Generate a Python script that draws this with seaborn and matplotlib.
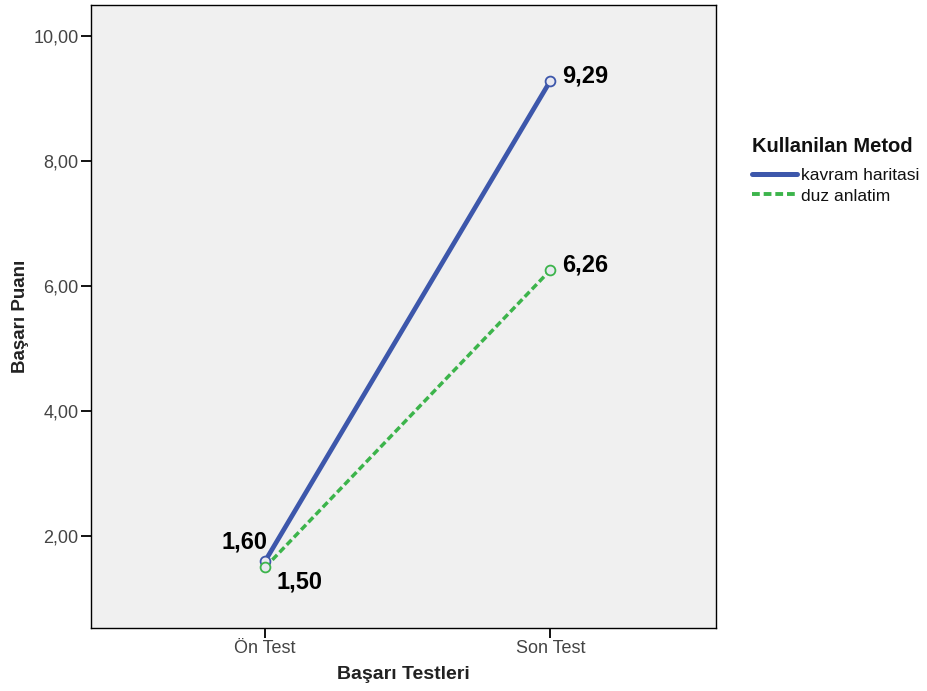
import matplotlib
matplotlib.use("Agg")
import matplotlib.pyplot as plt
import seaborn as sns
import pandas as pd
from matplotlib.lines import Line2D

tests = ["Ön Test", "Son Test"]
kavram = [1.60, 9.29]
duz = [1.50, 6.26]
methods = ["kavram haritasi", "duz anlatim"]
yticks = [2, 4, 6, 8, 10]

df = pd.DataFrame({
    "test": tests * 2,
    "x": [0, 1, 0, 1],
    "score": kavram + duz,
    "method": [methods[0]] * 2 + [methods[1]] * 2,
})

sns.set_theme(style="white")
plt.rcParams['font.family'] = ['Liberation Sans', 'DejaVu Sans']

fig = plt.figure(figsize=(9.27, 6.91), dpi=100)
ax = fig.add_axes([0.0982, 0.0912, 0.6742, 0.9016])
ax.set_facecolor("#F0F0F0")
palette = {methods[0]: "#3D57AB", methods[1]: "#3CB44B"}
sns.lineplot(data=df, x="x", y="score", hue="method", style="method",
             palette=palette, dashes={methods[0]: "", methods[1]: (2, 1)},
             ax=ax, legend=False, linewidth=3, sort=False)
lw = {methods[0]: 3.4, methods[1]: 2.5}
for line, m in zip(ax.lines, methods):
    line.set_linewidth(lw[m])
for m, vals in zip(methods, [kavram, duz]):
    ax.scatter([0, 1], vals, s=50, facecolors="#E8E8F0", edgecolors=palette[m],
               linewidths=1.3, zorder=5)

fs = 17
ax.text(0.0 + 0.01, kavram[0] + 0.12, "1,60", ha="right", va="bottom", fontsize=fs, fontweight="bold", color="black")
ax.text(0.04, duz[0] - 0.05, "1,50", ha="left", va="top", fontsize=fs, fontweight="bold", color="black")
ax.text(1.04, kavram[1] + 0.08, "9,29", ha="left", va="center", fontsize=fs, fontweight="bold", color="black")
ax.text(1.04, duz[1] + 0.08, "6,26", ha="left", va="center", fontsize=fs, fontweight="bold", color="black")

ax.set_xlim(-0.61, 1.58)
ax.set_ylim(0.53, 10.5)
ax.set_xticks([0, 1])
ax.set_xticklabels(tests)
ax.set_yticks(yticks)
ax.set_yticklabels([f"{v},00" for v in yticks])
ax.tick_params(axis="both", which="major", direction="out", length=7, width=1.3,
               color="black", labelsize=13, labelcolor="#444444", left=True, bottom=True,
               pad=2)
for s in ax.spines.values():
    s.set_color("black")
    s.set_linewidth(1.0)
ax.set_xlabel("Başarı Testleri", fontsize=14, fontweight="bold", color="#222222", labelpad=6)
ax.set_ylabel("Başarı Puanı", fontsize=13.5, fontweight="bold", color="#222222", labelpad=3)

handles = [Line2D([], [], color=palette[methods[0]], lw=3.6),
           Line2D([], [], color=palette[methods[1]], lw=2.8, ls=(0, (2, 1)))]
leg = fig.legend(handles, methods, loc="upper left", bbox_to_anchor=(0.798, 0.82),
                 frameon=False, title="Kullanilan Metod", fontsize=12.5,
                 title_fontproperties={"weight": "bold", "size": 14.5},
                 handlelength=2.6, handletextpad=0.2, labelspacing=0.3,
                 borderpad=0.2)
leg._legend_box.align = "left"
leg._legend_box.sep = 9
leg.get_title().set_color("#111111")
for t in leg.get_texts():
    t.set_color("#111111")

fig.savefig("out.png", dpi=100)
